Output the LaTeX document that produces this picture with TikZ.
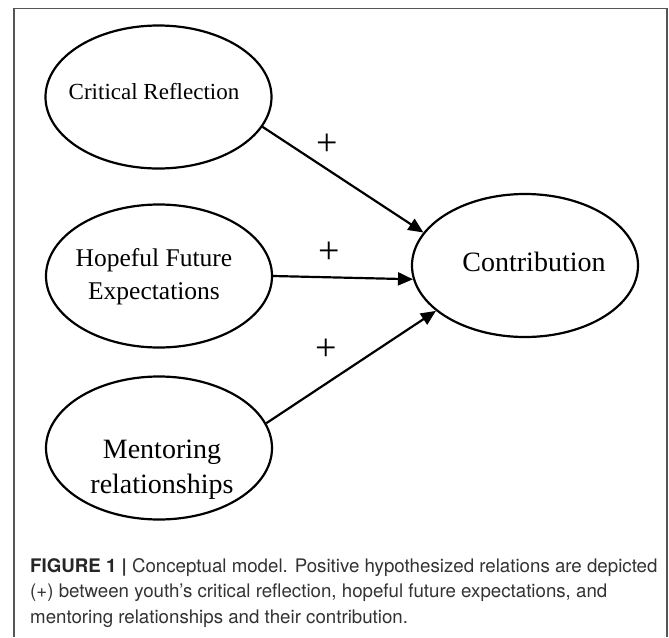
\documentclass[tikz,border=0pt]{standalone}
\usepackage{fontspec}
\setmainfont{Liberation Serif}
\newfontfamily\capfont{TeX Gyre Heros}
\usetikzlibrary{shapes.geometric,arrows.meta}
\definecolor{framegray}{HTML}{555555}
\definecolor{captext}{HTML}{333333}
\tikzset{
  latent/.style={draw, ellipse, line width=2.2pt, minimum width=226pt, minimum height=143pt, inner sep=0pt},
  conn/.style={line width=2.2pt, -{Triangle[length=15pt,width=13pt]}},
  plusmark/.style={font=\fontsize{38}{38}\selectfont, inner sep=0pt},
  lbl/.style={align=center, inner sep=0pt}
}
\begin{document}
\begin{tikzpicture}[x=1pt,y=1pt]
\useasboundingbox (0,0) rectangle (669,-637);
\fill[white] (0,0) rectangle (669,-637);
% frame (open at bottom)
\draw[framegray, line width=1.3pt] (14,-637) -- (14,-8.5) -- (667,-8.5) -- (667,-637);
% ellipses
\node[latent] (cr) at (158.5,-97) {};
\node[latent] (hf) at (159,-276) {};
\node[latent] (mr) at (159,-448) {};
\node[latent] (con) at (525,-265.5) {};
% labels
\node[lbl, font=\fontsize{23}{27}\selectfont] (crt) at (154,-92) {Critical Reflection};
\node[lbl, font=\fontsize{25.5}{33}\selectfont] (hft) at (154,-277) {Hopeful Future\\Expectations};
\node[lbl, font=\fontsize{28}{35}\selectfont] (mrt) at (162,-470) {Mentoring\\relationships};
\node[lbl, font=\fontsize{28}{33}\selectfont] (cont) at (534,-262) {Contribution};
% connectors
\draw[conn] (cr.-16) -- (con.162);
\draw[conn] (hf.0) -- (con.-173);
\draw[conn] (mr.13) -- (con.-153);
% plus marks
\node[plusmark] (p1) at (327,-145) {+};
\node[plusmark] (p2) at (329,-253) {+};
\node[plusmark] (p3) at (326,-350) {+};
% caption
\node[anchor=north west, align=left, inner sep=0pt, text=captext,
      font=\capfont\fontsize{18.7}{25.5}\selectfont] (cap) at (30,-558)
 {\textbf{\color{black!85}FIGURE 1} \textbf{|} Conceptual model. Positive hypothesized relations are depicted\\
  (+) between youth’s critical reflection, hopeful future expectations, and\\
  mentoring relationships and their contribution.};
\end{tikzpicture}
\end{document}
